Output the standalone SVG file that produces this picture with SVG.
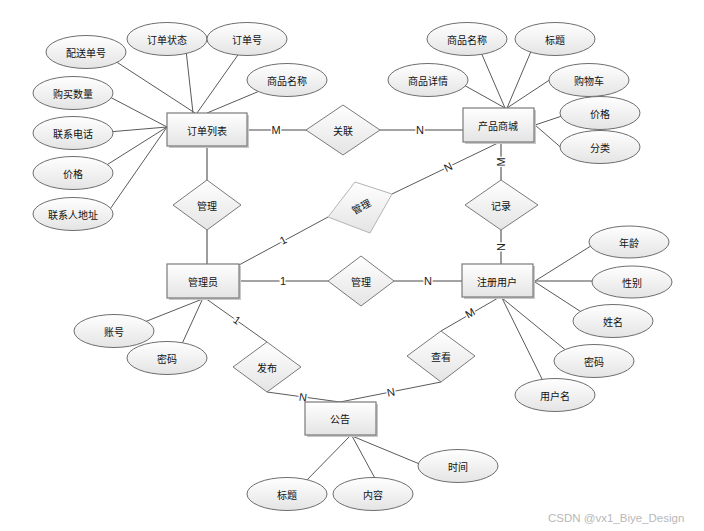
<svg xmlns="http://www.w3.org/2000/svg" width="704" height="531" viewBox="0 0 704 531">
<defs>
<linearGradient id="g" x1="0" y1="0" x2="0" y2="1">
<stop offset="0" stop-color="#ffffff"/>
<stop offset="1" stop-color="#e4e4e4"/>
</linearGradient>
</defs>
<style>
text{font-family:"Noto Sans CJK SC","Liberation Sans",sans-serif;font-size:10px;fill:#111;text-anchor:middle;dominant-baseline:central}
.ent rect.s{fill:#c8c8c8;stroke:none}
.ent rect.b{fill:url(#g);stroke:#7a7a7a;stroke-width:1.2}
.att ellipse{fill:url(#g);stroke:#6e6e6e;stroke-width:1}
.rel polygon{fill:url(#g);stroke:#7a7a7a;stroke-width:1}
.rel polygon.light{stroke:#b4b4b4}
.a{stroke:#5a5a5a;stroke-width:1;fill:none}
.r{stroke:#858585;stroke-width:1.6;fill:none}
.lbl{font-family:"Liberation Sans",sans-serif;font-size:11px;fill:#222;stroke:#fff;stroke-width:3;paint-order:stroke}
.wm{font-family:"Liberation Sans",sans-serif;font-size:11.5px;fill:#b8b8b8;text-anchor:start}
</style>
<rect width="704" height="531" fill="#fff"/>
<g id="connectors">
<!-- attribute lines -->
<line class="a" x1="195" y1="113" x2="115" y2="61"/>
<line class="a" x1="193" y1="113" x2="186" y2="50"/>
<line class="a" x1="197" y1="113" x2="240" y2="52"/>
<line class="a" x1="207" y1="113" x2="262" y2="90"/>
<line class="a" x1="167" y1="127" x2="108" y2="96"/>
<line class="a" x1="167" y1="127" x2="108" y2="132"/>
<line class="a" x1="167" y1="127" x2="105" y2="166"/>
<line class="a" x1="167" y1="127" x2="108" y2="212"/>
<line class="a" x1="505" y1="108" x2="480" y2="50"/>
<line class="a" x1="507" y1="108" x2="532" y2="49"/>
<line class="a" x1="505" y1="108" x2="462" y2="84"/>
<line class="a" x1="507" y1="108" x2="554" y2="77"/>
<line class="a" x1="535" y1="125" x2="565" y2="115"/>
<line class="a" x1="535" y1="125" x2="565" y2="151"/>
<line class="a" x1="535" y1="281" x2="594" y2="244"/>
<line class="r" x1="535" y1="281" x2="595" y2="281"/>
<line class="a" x1="535" y1="282" x2="586" y2="315"/>
<line class="a" x1="502" y1="298" x2="568" y2="352"/>
<line class="a" x1="502" y1="298" x2="544" y2="383"/>
<line class="a" x1="205" y1="298" x2="142" y2="323"/>
<line class="a" x1="203" y1="298" x2="181" y2="346"/>
<line class="a" x1="350" y1="436" x2="303" y2="484"/>
<line class="a" x1="352" y1="436" x2="377" y2="482"/>
<line class="a" x1="352" y1="436" x2="422" y2="465"/>
<!-- relationship lines -->
<line class="r" x1="247" y1="130" x2="307" y2="130"/>
<line class="r" x1="380" y1="130" x2="463" y2="130"/>
<line class="r" x1="207" y1="147" x2="207" y2="180"/>
<line class="r" x1="207" y1="230" x2="207" y2="264"/>
<line class="r" x1="501" y1="142" x2="501" y2="180"/>
<line class="r" x1="501" y1="230" x2="501" y2="264"/>
<line class="r" x1="239" y1="281" x2="328" y2="281"/>
<line class="r" x1="394" y1="281" x2="462" y2="281"/>
<line class="a" x1="239" y1="265" x2="328" y2="217"/>
<line class="a" x1="392" y1="194" x2="500" y2="142"/>
<line class="a" x1="205" y1="298" x2="267" y2="342"/>
<line class="a" x1="267" y1="392" x2="340" y2="402"/>
<line class="a" x1="441" y1="382" x2="340" y2="402"/>
<line class="a" x1="498" y1="298" x2="441" y2="331"/>
<!-- labels -->
<text class="lbl" x="276" y="130">M</text>
<text class="lbl" x="420" y="130">N</text>
<text class="lbl" transform="translate(501,162) rotate(-90)">M</text>
<text class="lbl" transform="translate(501,247) rotate(-90)">N</text>
<text class="lbl" x="283" y="281">1</text>
<text class="lbl" x="428" y="281">N</text>
<text class="lbl" transform="translate(283,240) rotate(-28)">1</text>
<text class="lbl" transform="translate(448,167) rotate(-26)">N</text>
<text class="lbl" transform="translate(237,320) rotate(35)">1</text>
<text class="lbl" transform="translate(303,397) rotate(8)">N</text>
<text class="lbl" transform="translate(391,392) rotate(-11)">N</text>
<text class="lbl" transform="translate(470,313) rotate(-30)">M</text>
</g>
<!-- entities -->
<g id="e-order" class="ent"><rect class="s" x="169" y="115" width="80" height="33"/><rect class="b" x="167" y="113" width="80" height="33"/><text x="207" y="130">订单列表</text></g>
<g id="e-mall" class="ent"><rect class="s" x="465" y="110" width="71" height="34"/><rect class="b" x="463" y="108" width="71" height="34"/><text x="498" y="125">产品商城</text></g>
<g id="e-admin" class="ent"><rect class="s" x="169" y="266" width="72" height="34"/><rect class="b" x="167" y="264" width="72" height="34"/><text x="203" y="281">管理员</text></g>
<g id="e-user" class="ent"><rect class="s" x="464" y="266" width="71" height="33"/><rect class="b" x="462" y="264" width="71" height="33"/><text x="497" y="281">注册用户</text></g>
<g id="e-notice" class="ent"><rect class="s" x="307" y="404" width="71" height="33"/><rect class="b" x="305" y="402" width="71" height="33"/><text x="340" y="418">公告</text></g>
<!-- relationships -->
<g id="r-link" class="rel"><polygon points="343,105 380,130 343,155 306,130"/><text x="343" y="130">关联</text></g>
<g id="r-manage1" class="rel"><polygon points="207,180 241,205 207,230 173,205"/><text x="207" y="205">管理</text></g>
<g id="r-record" class="rel"><polygon points="501,180 538,205 501,230 465,205"/><text x="501" y="205">记录</text></g>
<g id="r-manage2" class="rel"><polygon points="361,256 394,281 361,306 328,281"/><text x="361" y="281">管理</text></g>
<g id="r-manage3" class="rel"><polygon class="light" points="355,182 392,194 370,233 328,217"/><text transform="translate(361,206) rotate(-28)">管理</text></g>
<g id="r-publish" class="rel"><polygon points="267,342 301,367 267,392 233,367"/><text x="267" y="367">发布</text></g>
<g id="r-view" class="rel"><polygon points="441,331 475,356 441,382 407,356"/><text x="441" y="356">查看</text></g>
<!-- attributes of 订单列表 -->
<g id="a-o1" class="att"><ellipse cx="86" cy="52" rx="40" ry="16.5"/><text x="86" y="52">配送单号</text></g>
<g id="a-o2" class="att"><ellipse cx="167" cy="39" rx="40" ry="16.5"/><text x="167" y="39">订单状态</text></g>
<g id="a-o3" class="att"><ellipse cx="247" cy="39" rx="40" ry="16.5"/><text x="247" y="39">订单号</text></g>
<g id="a-o4" class="att"><ellipse cx="287" cy="80" rx="40" ry="16.5"/><text x="287" y="80">商品名称</text></g>
<g id="a-o5" class="att"><ellipse cx="73" cy="93" rx="40" ry="16.5"/><text x="73" y="93">购买数量</text></g>
<g id="a-o6" class="att"><ellipse cx="73" cy="133" rx="40" ry="16.5"/><text x="73" y="133">联系电话</text></g>
<g id="a-o7" class="att"><ellipse cx="73" cy="173" rx="40" ry="16.5"/><text x="73" y="173">价格</text></g>
<g id="a-o8" class="att"><ellipse cx="73" cy="214" rx="40" ry="16.5"/><text x="73" y="214">联系人地址</text></g>
<!-- attributes of 产品商城 -->
<g id="a-m1" class="att"><ellipse cx="467" cy="39" rx="40" ry="16.5"/><text x="467" y="39">商品名称</text></g>
<g id="a-m2" class="att"><ellipse cx="555" cy="39" rx="40" ry="16.5"/><text x="555" y="39">标题</text></g>
<g id="a-m3" class="att"><ellipse cx="428" cy="80" rx="40" ry="16.5"/><text x="428" y="80">商品详情</text></g>
<g id="a-m4" class="att"><ellipse cx="589" cy="80" rx="40" ry="16.5"/><text x="589" y="80">购物车</text></g>
<g id="a-m5" class="att"><ellipse cx="600" cy="113" rx="40" ry="16.5"/><text x="600" y="113">价格</text></g>
<g id="a-m6" class="att"><ellipse cx="600" cy="147" rx="40" ry="16.5"/><text x="600" y="147">分类</text></g>
<!-- attributes of 注册用户 -->
<g id="a-u1" class="att"><ellipse cx="629" cy="242" rx="40" ry="16"/><text x="629" y="242">年龄</text></g>
<g id="a-u2" class="att"><ellipse cx="632" cy="282" rx="40" ry="16"/><text x="632" y="282">性别</text></g>
<g id="a-u3" class="att"><ellipse cx="613" cy="321" rx="40" ry="16.5"/><text x="613" y="321">姓名</text></g>
<g id="a-u4" class="att"><ellipse cx="594" cy="361" rx="40" ry="16.5"/><text x="594" y="361">密码</text></g>
<g id="a-u5" class="att"><ellipse cx="555" cy="395" rx="40" ry="16.5"/><text x="555" y="395">用户名</text></g>
<!-- attributes of 管理员 -->
<g id="a-a1" class="att"><ellipse cx="114" cy="331" rx="40" ry="16.5"/><text x="114" y="331">账号</text></g>
<g id="a-a2" class="att"><ellipse cx="167" cy="358" rx="40" ry="16.5"/><text x="167" y="358">密码</text></g>
<!-- attributes of 公告 -->
<g id="a-n1" class="att"><ellipse cx="287" cy="494" rx="40" ry="16.5"/><text x="287" y="494">标题</text></g>
<g id="a-n2" class="att"><ellipse cx="373" cy="494" rx="40" ry="16.5"/><text x="373" y="494">内容</text></g>
<g id="a-n3" class="att"><ellipse cx="458" cy="466" rx="40" ry="16.5"/><text x="458" y="466">时间</text></g>
<text class="wm" x="548" y="518">CSDN @vx1_Biye_Design</text>
</svg>
